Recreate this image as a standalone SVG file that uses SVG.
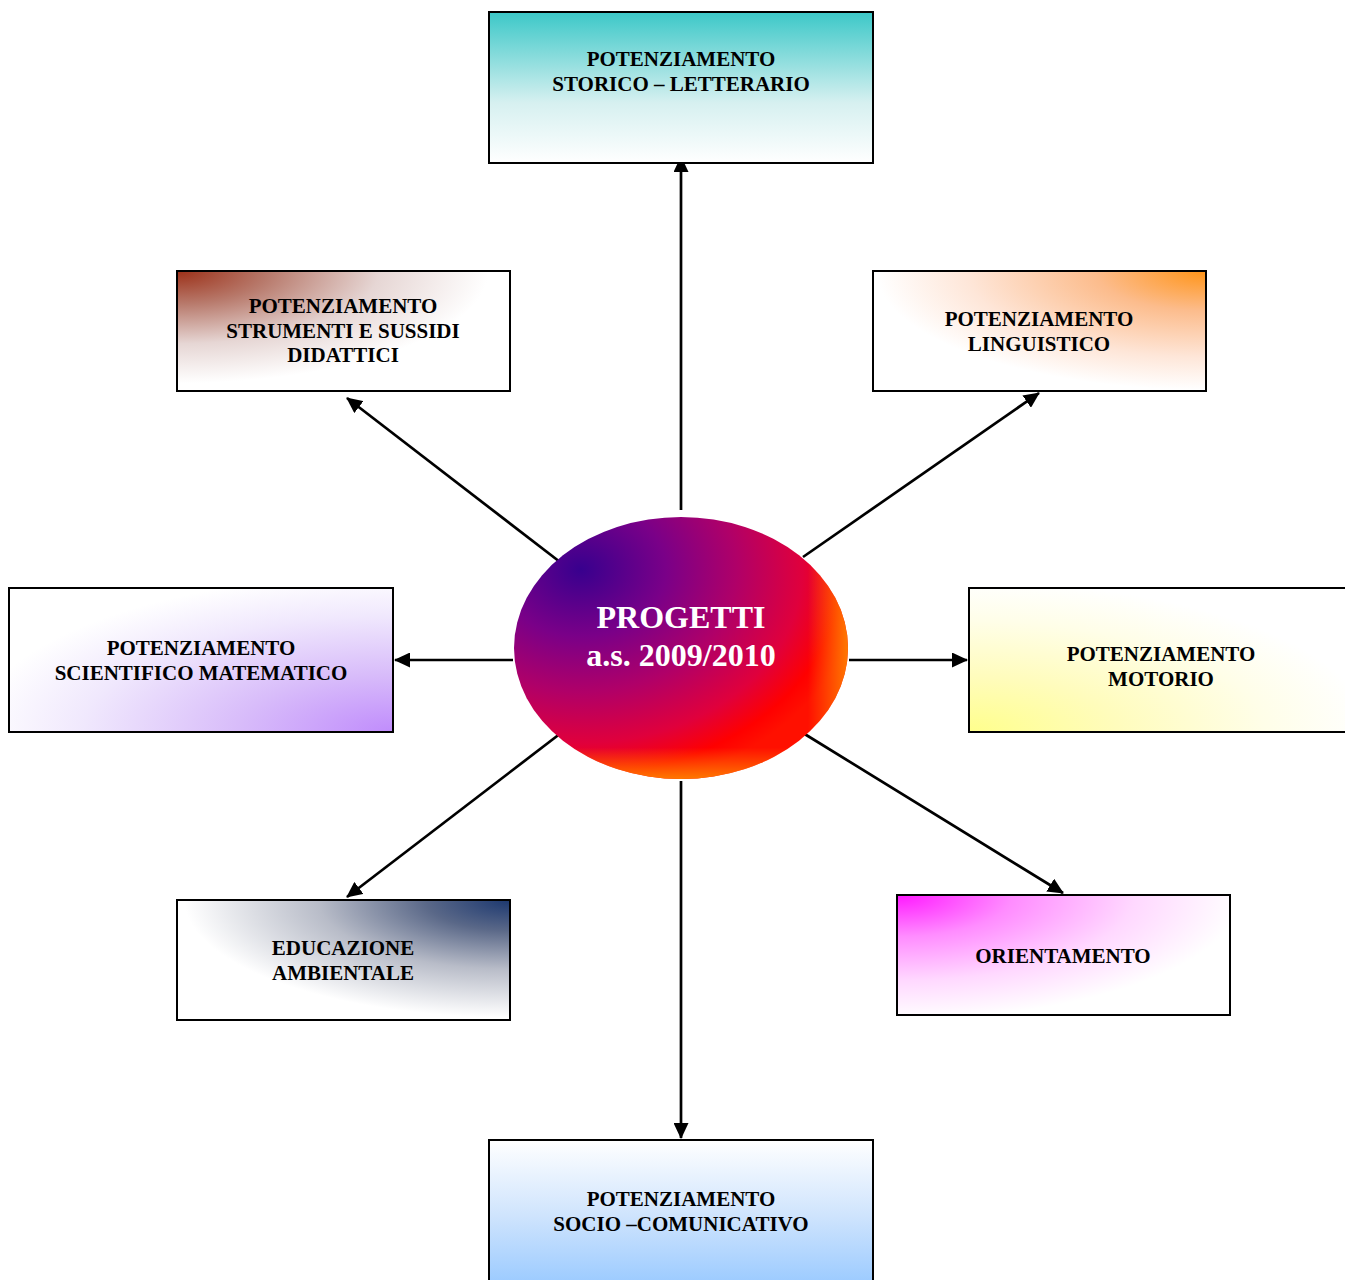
<svg xmlns="http://www.w3.org/2000/svg" width="1345" height="1280" viewBox="0 0 1345 1280">
<defs>
<style>
.box{stroke:#000;stroke-width:2}
.t{font-family:"Liberation Serif","Times New Roman",serif;font-weight:bold;font-size:21px;fill:#000;text-anchor:middle}
.c{font-family:"Liberation Serif","Times New Roman",serif;font-weight:bold;font-size:32px;fill:#fff;text-anchor:middle}
.conn line{stroke:#000;stroke-width:2.7;marker-end:url(#arr)}
</style>
<marker id="arr" viewBox="0 0 16 15" refX="15" refY="7.5" markerWidth="16" markerHeight="15" orient="auto" markerUnits="userSpaceOnUse">
<path d="M0,0 L16,7.5 L0,15 z" fill="#000"/>
</marker>
<linearGradient id="gTop" x1="0" y1="0" x2="0" y2="1">
<stop offset="0" stop-color="#3cc8c8"/><stop offset="0.6" stop-color="#d6f0f0"/><stop offset="1" stop-color="#ffffff"/>
</linearGradient>
<radialGradient id="gStr" cx="0" cy="0" r="1.1" fx="0" fy="0">
<stop offset="0" stop-color="#9c3018"/><stop offset="0.25" stop-color="#b87a6c"/><stop offset="0.55" stop-color="#e6d6d4"/><stop offset="0.85" stop-color="#ffffff"/>
</radialGradient>
<radialGradient id="gLin" cx="1" cy="0" r="1.1" fx="1" fy="0">
<stop offset="0" stop-color="#ff9418"/><stop offset="0.3" stop-color="#fcbc8c"/><stop offset="0.65" stop-color="#fee6d8"/><stop offset="0.9" stop-color="#ffffff"/>
</radialGradient>
<radialGradient id="gSci" cx="1" cy="1" r="1.15" fx="1" fy="1">
<stop offset="0" stop-color="#c08cfc"/><stop offset="0.35" stop-color="#d8bcfa"/><stop offset="0.7" stop-color="#f0e8fd"/><stop offset="0.95" stop-color="#ffffff"/>
</radialGradient>
<radialGradient id="gMot" cx="0" cy="1" r="1.1" fx="0" fy="1">
<stop offset="0" stop-color="#ffff8c"/><stop offset="0.35" stop-color="#fffcbc"/><stop offset="0.7" stop-color="#fffee8"/><stop offset="0.95" stop-color="#ffffff"/>
</radialGradient>
<radialGradient id="gEdu" cx="1" cy="0" r="1.15" fx="1" fy="0">
<stop offset="0" stop-color="#1c3870"/><stop offset="0.22" stop-color="#5a6888"/><stop offset="0.5" stop-color="#b8bcc8"/><stop offset="0.85" stop-color="#ffffff"/>
</radialGradient>
<radialGradient id="gOri" cx="0" cy="0" r="1.15" fx="0" fy="0">
<stop offset="0" stop-color="#ff18ff"/><stop offset="0.3" stop-color="#ff8cff"/><stop offset="0.62" stop-color="#ffd8ff"/><stop offset="0.9" stop-color="#ffffff"/>
</radialGradient>
<linearGradient id="gSoc" x1="0" y1="0" x2="0" y2="1">
<stop offset="0" stop-color="#ffffff"/><stop offset="0.5" stop-color="#cfe4fd"/><stop offset="1" stop-color="#96c8ff"/>
</linearGradient>
<radialGradient id="gEll" cx="0.2" cy="0.2" r="0.85" fx="0.2" fy="0.2">
<stop offset="0" stop-color="#38008e"/><stop offset="0.3" stop-color="#7a0088"/><stop offset="0.55" stop-color="#b00068"/><stop offset="0.78" stop-color="#e0003c"/><stop offset="0.92" stop-color="#ff0000"/><stop offset="1" stop-color="#ff1000"/>
</radialGradient>
<linearGradient id="gEllR" x1="0" y1="0" x2="1" y2="0">
<stop offset="0" stop-color="#ff7000" stop-opacity="0"/><stop offset="0.88" stop-color="#ff7000" stop-opacity="0"/><stop offset="1" stop-color="#ff7800" stop-opacity="1"/>
</linearGradient>
<linearGradient id="gEllB" x1="0" y1="0" x2="0" y2="1">
<stop offset="0" stop-color="#ff7000" stop-opacity="0"/><stop offset="0.88" stop-color="#ff7000" stop-opacity="0"/><stop offset="1" stop-color="#ff7800" stop-opacity="1"/>
</linearGradient>
</defs>
<rect width="1345" height="1280" fill="#fff"/>
<g id="connectors" class="conn">
<line x1="681" y1="510" x2="681" y2="157"/>
<line x1="560" y1="562" x2="347" y2="398"/>
<line x1="803" y1="557" x2="1039" y2="393"/>
<line x1="513" y1="660" x2="395" y2="660"/>
<line x1="849" y1="660" x2="967" y2="660"/>
<line x1="561" y1="733" x2="347" y2="897"/>
<line x1="803" y1="733" x2="1063" y2="893"/>
<line x1="681" y1="781" x2="681" y2="1138"/>
</g>
<g id="center">
<ellipse cx="681" cy="648" rx="167" ry="131" fill="url(#gEll)"/>
<ellipse cx="681" cy="648" rx="167" ry="131" fill="url(#gEllR)"/>
<ellipse cx="681" cy="648" rx="167" ry="131" fill="url(#gEllB)"/>
<text class="c" x="681" y="628">PROGETTI</text>
<text class="c" x="681" y="666">a.s. 2009/2010</text>
</g>
<g id="storico">
<rect class="box" x="489" y="12" width="384" height="151" fill="url(#gTop)"/>
<text class="t" x="681" y="66">POTENZIAMENTO</text>
<text class="t" x="681" y="91">STORICO – LETTERARIO</text>
</g>
<g id="strumenti">
<rect class="box" x="177" y="271" width="333" height="120" fill="url(#gStr)"/>
<text class="t" x="343" y="313">POTENZIAMENTO</text>
<text class="t" x="343" y="338">STRUMENTI E SUSSIDI</text>
<text class="t" x="343" y="362">DIDATTICI</text>
</g>
<g id="linguistico">
<rect class="box" x="873" y="271" width="333" height="120" fill="url(#gLin)"/>
<text class="t" x="1039" y="326">POTENZIAMENTO</text>
<text class="t" x="1039" y="351">LINGUISTICO</text>
</g>
<g id="scientifico">
<rect class="box" x="9" y="588" width="384" height="144" fill="url(#gSci)"/>
<text class="t" x="201" y="655">POTENZIAMENTO</text>
<text class="t" x="201" y="680">SCIENTIFICO MATEMATICO</text>
</g>
<g id="motorio">
<rect class="box" x="969" y="588" width="384" height="144" fill="url(#gMot)"/>
<text class="t" x="1161" y="661">POTENZIAMENTO</text>
<text class="t" x="1161" y="686">MOTORIO</text>
</g>
<g id="educazione">
<rect class="box" x="177" y="900" width="333" height="120" fill="url(#gEdu)"/>
<text class="t" x="343" y="955">EDUCAZIONE</text>
<text class="t" x="343" y="980">AMBIENTALE</text>
</g>
<g id="orientamento">
<rect class="box" x="897" y="895" width="333" height="120" fill="url(#gOri)"/>
<text class="t" x="1063" y="963">ORIENTAMENTO</text>
</g>
<g id="socio">
<rect class="box" x="489" y="1140" width="384" height="151" fill="url(#gSoc)"/>
<text class="t" x="681" y="1206">POTENZIAMENTO</text>
<text class="t" x="681" y="1231">SOCIO –COMUNICATIVO</text>
</g>
</svg>
